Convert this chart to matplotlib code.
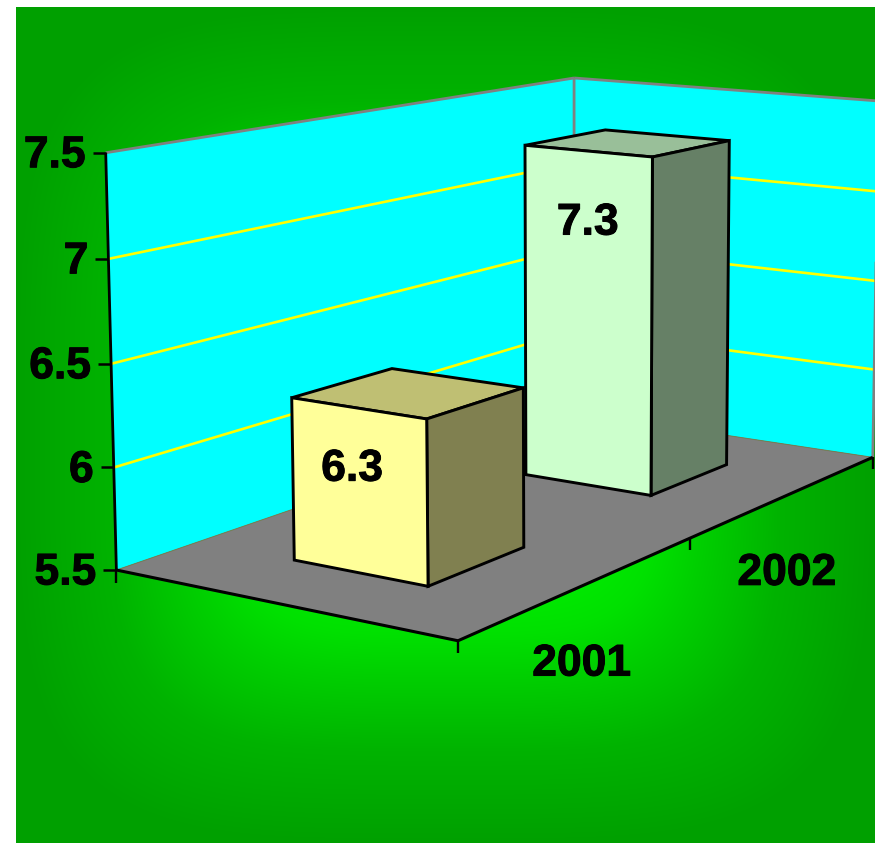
import numpy as np
import matplotlib
matplotlib.use("Agg")
import matplotlib.pyplot as plt
import matplotlib.patheffects as pe
from matplotlib.patches import Polygon

categories = ["2001", "2002"]
values = [6.3, 7.3]
value_labels = ["6.3", "7.3"]
tick_values = [5.5, 6, 6.5, 7, 7.5]
tick_labels = ["5.5", "6", "6.5", "7", "7.5"]
V_MIN, V_MAX = 5.5, 7.5
GAP = 0.3  # gap on each side of a bar, in category units (gap width 150%)

# Perspective camera: (category position, depth, value) -> pixel
CAMERA = np.array([[306.3734151, -310.6000049, -6.6476199, 465.4421929],
                   [-27.1089329, -20.7014392, -213.8053171, 1775.9558935],
                   [0.1285149, 0.079878, -0.0115569, 1.0]])


def project(a, b, v):
    h = CAMERA @ np.array([a, b, v, 1.0])
    return h[0] / h[2], h[1] / h[2]


plt.rcParams['font.family'] = ['Liberation Sans', 'DejaVu Sans']
W, H = 875, 843
fig = plt.figure(figsize=(W / 100, H / 100), dpi=100, facecolor='white')
ax = fig.add_axes([0, 0, 1, 1])
ax.axis('off')

# Background gradient
X, Y = np.meshgrid(np.arange(16, 875) + .5, np.arange(7, 843) + .5)
t = ((np.abs(X - 445) / 430) ** 4 + (np.abs(Y - 425) / 418) ** 4) ** .25
f = np.interp(t, [0, .4, .5, .6, .78, 1, 1.2], [1, .78, .68, .5, .2, 0, 0])
img = np.zeros(X.shape + (3,))
img[..., 1] = (160 + 95 * f) / 255
ax.imshow(img, extent=(16, 875, 843, 7), aspect='auto', interpolation='bilinear', zorder=0)
ax.set_xlim(0, W)
ax.set_ylim(H, 0)


def poly(pts, fc, ec='none', lw=0, z=1):
    ax.add_patch(Polygon([project(*q) for q in pts], closed=True, fc=fc, ec=ec, lw=lw,
                         joinstyle='miter', zorder=z))


def line(p, q, c, lw, z=2):
    a, b = project(*p), project(*q)
    ax.plot([a[0], b[0]], [a[1], b[1]], color=c, lw=lw, zorder=z, solid_capstyle='butt')


def label(x, y, s, ha, z):
    ax.text(x, y, s, ha=ha, va='center', fontsize=32, fontweight='bold', color='k', zorder=z,
            path_effects=[pe.withStroke(linewidth=0.7, foreground='k')])


N = len(categories)
poly([(0, 1, V_MIN), (N, 1, V_MIN), (N, 1, V_MAX), (0, 1, V_MAX)], '#00FFFF')
poly([(N, 1, V_MIN), (N, 0, V_MIN), (N, 0, V_MAX), (N, 1, V_MAX)], '#00FFFF')
poly([(0, 0, V_MIN), (0, 1, V_MIN), (N, 1, V_MIN), (N, 0, V_MIN)], '#808080')
for v in tick_values[1:-1]:
    line((0, 1, v), (N, 1, v), '#FFFF00', 1.9)
    line((N, 1, v), (N, 0, v), '#FFFF00', 1.9)
G = '#808080'
line((0, 1, V_MAX), (N, 1, V_MAX), G, 2.0)
line((N, 1, V_MAX), (N, 0, V_MAX), G, 2.0)
line((N, 1, V_MIN), (N, 1, V_MAX), G, 2.0)
line((N, 0, V_MIN), (N, 0, V_MAX), G, 2.0)
line((0, 1, V_MIN), (N, 1, V_MIN), '#7A7A55', .7)
line((N, 1, V_MIN), (N, 0, V_MIN), '#7A7A55', .7)
line((0, 1, V_MIN), (0, 1, V_MAX), 'k', 2.0, z=3)
line((0, 1, V_MIN), (0, 0, V_MIN), 'k', 2.2, z=3)
line((0, 0, V_MIN), (N, 0, V_MIN), 'k', 2.2, z=3)
for v, l in zip(tick_values, tick_labels):
    x, y = project(0, 1, v)
    ax.plot([x - 13, x], [y, y], color='k', lw=1.8, zorder=3, solid_capstyle='butt')
    label(x - 20, y + 3, l, 'right', 5)
for i in range(N + 1):
    x, y = project(i, 0, V_MIN)
    ax.plot([x, x], [y, y + 12], color='k', lw=1.7, zorder=3, solid_capstyle='butt')
x, y = project(0, 1, V_MIN)
ax.plot([x, x], [y, y + 13], color='k', lw=1.7, zorder=3, solid_capstyle='butt')
for i, c in enumerate(categories):
    x, y = project(i + .5, 0, V_MIN)
    label(x, y + 78, c, 'center', 5)

front = ['#FFFF99', '#CCFFCC']
side = ['#808050', '#668066']
top = ['#BFBF73', '#99BF99']
dxs = [-6, 0]
dys = [61, 72]
for i in range(N - 1, -1, -1):
    a0, a1 = i + GAP, i + 1 - GAP
    b0, b1 = GAP, 1 - GAP
    v = values[i]
    z = 6 + (N - i) * 2
    ek = dict(ec='k', lw=2.1, z=z)
    poly([(a1, b1, v), (a1, b0, v), (a0, b0, v), (a0, b1, v)], top[i], **ek)
    poly([(a0, b0, V_MIN), (a1, b0, V_MIN), (a1, b0, v), (a0, b0, v)], side[i], **ek)
    poly([(a0, b1, V_MIN), (a0, b0, V_MIN), (a0, b0, v), (a0, b1, v)], front[i], **ek)
    x, y = project(a0, .5, v)
    label(x + dxs[i], y + dys[i], value_labels[i], 'center', z + 1)
fig.savefig('out.png', dpi=100)
